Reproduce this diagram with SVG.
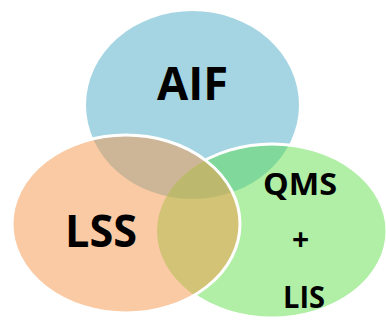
<svg xmlns="http://www.w3.org/2000/svg" width="386" height="320" viewBox="0 0 386 320">
  <style>
    .ring { fill: none; stroke: #ffffff; stroke-width: 3; }
    .label { font-family: "Open Sans", "Liberation Sans", sans-serif; font-weight: 700; fill: #000000; text-anchor: middle; }
  </style>
  <defs>
    <clipPath id="clipAif"><ellipse cx="192.5" cy="105" rx="106.5" ry="94"/></clipPath>
    <clipPath id="clipQms"><ellipse cx="272" cy="231" rx="115" ry="87"/></clipPath>
    <clipPath id="clipLss"><ellipse cx="126" cy="224" rx="114" ry="89"/></clipPath>
  </defs>

  <!-- AIF circle -->
  <g id="aif">
    <ellipse cx="192.5" cy="105" rx="106.5" ry="94" fill="#a5d5e2"/>
  </g>

  <!-- QMS + LIS circle, with its overlap on AIF -->
  <g id="qms-lis">
    <ellipse cx="272" cy="231" rx="115" ry="87" fill="#b0efa5"/>
    <ellipse cx="272" cy="231" rx="115" ry="87" fill="#80d89a" clip-path="url(#clipAif)"/>
    <ellipse class="ring" cx="272" cy="231" rx="115" ry="87"/>
  </g>

  <!-- LSS circle, with its overlaps on AIF and QMS + LIS -->
  <g id="lss">
    <ellipse cx="126" cy="224" rx="114" ry="89" fill="#f9caa3"/>
    <ellipse cx="126" cy="224" rx="114" ry="89" fill="#cdb597" clip-path="url(#clipAif)"/>
    <ellipse cx="126" cy="224" rx="114" ry="89" fill="#d3c376" clip-path="url(#clipQms)"/>
    <g clip-path="url(#clipAif)">
      <ellipse cx="126" cy="224" rx="114" ry="89" fill="#bcb96e" clip-path="url(#clipQms)"/>
    </g>
    <ellipse class="ring" cx="126" cy="224" rx="114" ry="89"/>
  </g>

  <!-- labels -->
  <g id="labels">
    <text class="label" x="192.5" y="100" font-size="46" textLength="71" lengthAdjust="spacingAndGlyphs">AIF</text>
    <text class="label" x="101" y="247" font-size="45" textLength="72" lengthAdjust="spacingAndGlyphs">LSS</text>
    <text class="label" x="300" y="195" font-size="31" textLength="74" lengthAdjust="spacingAndGlyphs">QMS</text>
    <text class="label" x="300.5" y="250" font-size="30">+</text>
    <text class="label" x="304" y="308" font-size="30" textLength="42" lengthAdjust="spacingAndGlyphs">LIS</text>
  </g>
</svg>
